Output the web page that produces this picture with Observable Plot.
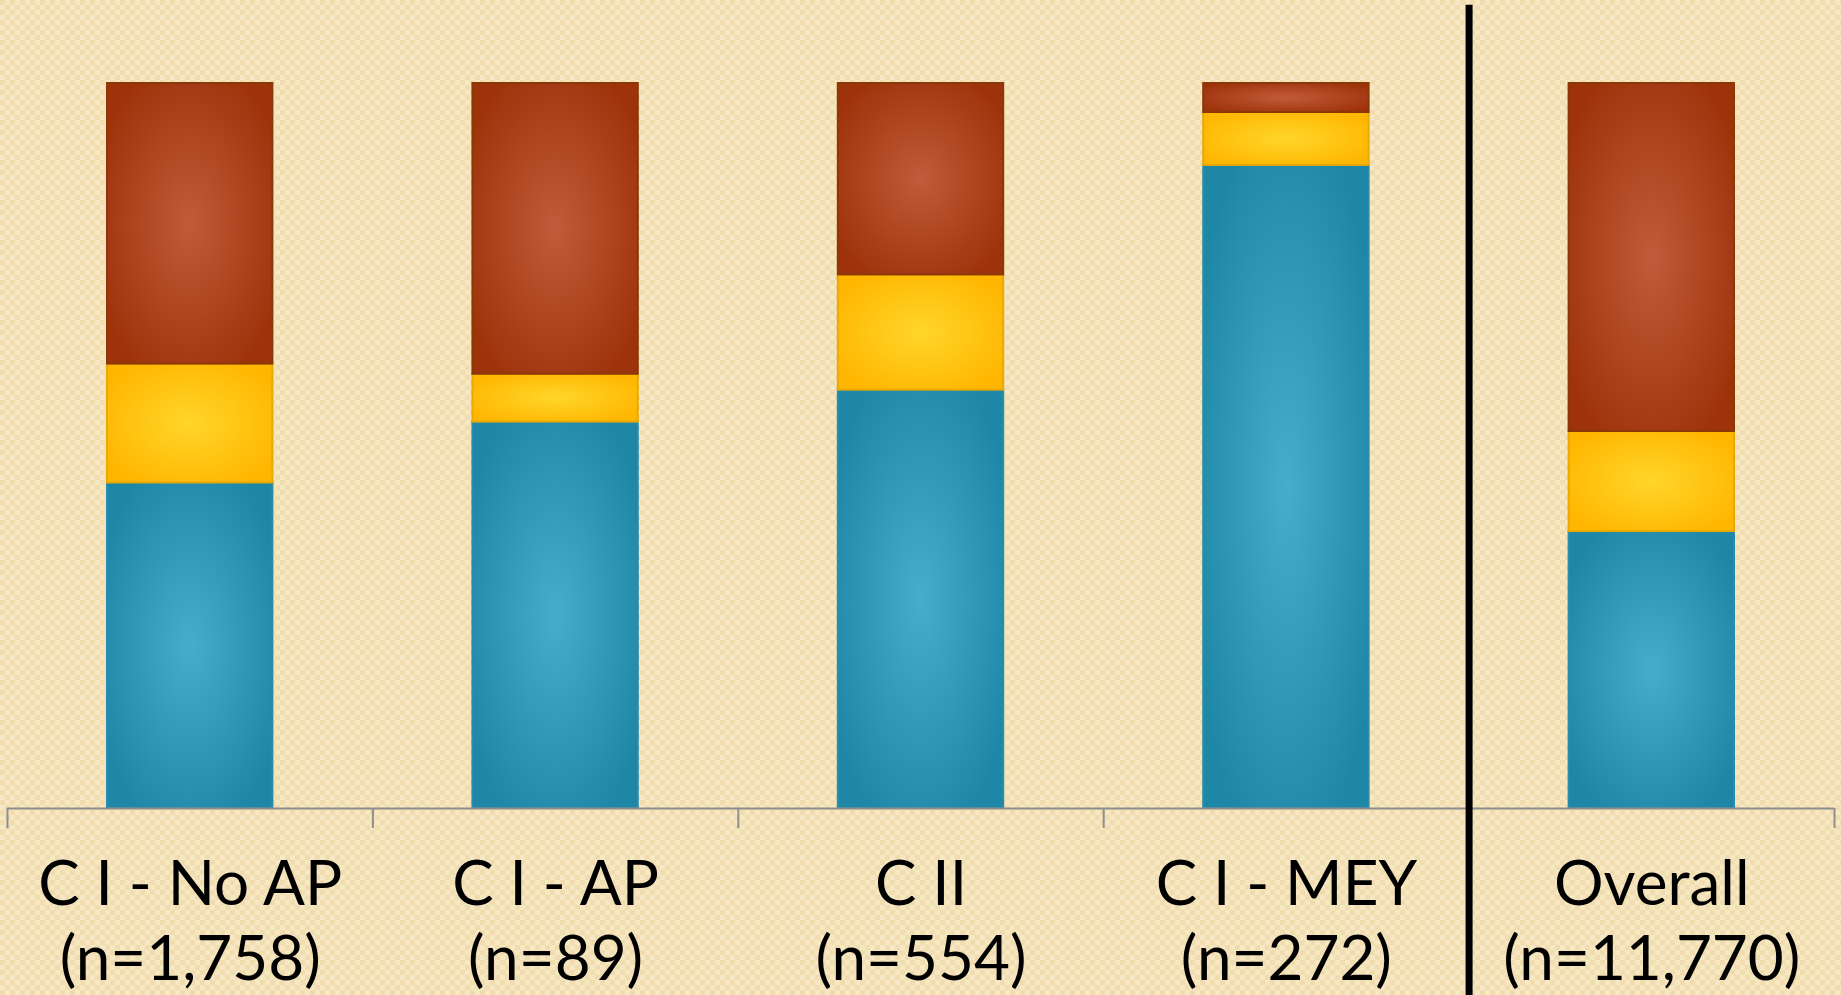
<!DOCTYPE html>
<html>
<head>
<meta charset="utf-8">
<script src="https://cdn.jsdelivr.net/npm/d3@7"></script>
<script src="https://cdn.jsdelivr.net/npm/@observablehq/plot@0.6"></script>
<style>
  html, body { margin: 0; padding: 0; }
  body {
    width: 1841px; height: 995px; overflow: hidden;
    background-color: #F5E4BC;
    background-image: repeating-conic-gradient(#F7E8C4 0 25%, #F0DCAF 0 50%);
    background-size: 10px 10px;
  }
  #chart svg rect.seg { filter: drop-shadow(1px 2px 2px rgba(90,60,20,0.25)); }
</style>
</head>
<body>
<div id="chart"></div>
<script>
const categories = ["C I - No AP", "C I - AP", "C II", "C I - MEY", "Overall"];
const nLabels = ["(n=1,758)", "(n=89)", "(n=554)", "(n=272)", "(n=11,770)"];
const series = ["Blue", "Yellow", "Red"];
const blueValues = [44.9, 53.3, 57.7, 88.7, 38.2];
const yellowValues = [16.4, 6.6, 15.9, 7.3, 13.8];
const redValues = [38.7, 40.1, 26.4, 4.0, 48.0];

const seriesValues = {Blue: blueValues, Yellow: yellowValues, Red: redValues};
const fills = {Blue: "url(#gBlue)", Yellow: "url(#gYellow)", Red: "url(#gRed)"};
const strokes = {Blue: "#2A8CA9", Yellow: "#E9A900", Red: "#8A3807"};

const data = [];
categories.forEach((c, i) => {
  series.forEach(s => data.push({cat: c, i, series: s, value: seriesValues[s][i]}));
});
const labels = categories.map((c, i) => ({i, text: c + "\n" + nLabels[i]}));

const plot = Plot.plot({
  width: 1841,
  height: 995,
  marginLeft: 7,
  marginRight: 7,
  marginTop: 83,
  marginBottom: 187,
  style: {background: "transparent", overflow: "visible"},
  x: {type: "linear", domain: [0, 5], axis: null},
  y: {domain: [0, 100], axis: null},
  color: {type: "identity"},
  marks: [
    Plot.rectY(data, Plot.stackY({
      x1: d => d.i, x2: d => d.i + 1, y: "value",
      fill: d => fills[d.series], stroke: d => strokes[d.series],
      strokeWidth: 2, insetLeft: 100, insetRight: 100,
      className: "seg"
    })),
    Plot.ruleY([0], {stroke: "#8E8E8E", strokeWidth: 2}),
    Plot.axisX({ticks: [0, 1, 2, 3, 4, 5], tickSize: 20, tickFormat: () => "", stroke: "#8E8E8E", strokeWidth: 2, anchor: "bottom"}),
    Plot.ruleX([4], {y1: -26, y2: 110.8, stroke: "#000", strokeWidth: 7}),
    Plot.text(labels, {
      x: d => d.i + 0.5, y: 0, text: "text",
      lineAnchor: "top", dy: 43, lineHeight: 1.21,
      fontSize: 62, fontFamily: "Lato", fill: "#000"
    })
  ]
});

// gradients
const svg = d3.select(plot);
const defs = svg.insert("defs", ":first-child");
function grad(id, inner, outer) {
  const g = defs.append("radialGradient").attr("id", id)
    .attr("cx", 0.5).attr("cy", 0.5).attr("r", 0.6);
  g.append("stop").attr("offset", "0%").attr("stop-color", inner);
  g.append("stop").attr("offset", "100%").attr("stop-color", outer);
}
grad("gBlue", "#45AECF", "#1E86A6");
grad("gYellow", "#FFD62A", "#FFB600");
grad("gRed", "#C25B3A", "#9E330B");

document.getElementById("chart").appendChild(plot);
</script>
</body>
</html>
